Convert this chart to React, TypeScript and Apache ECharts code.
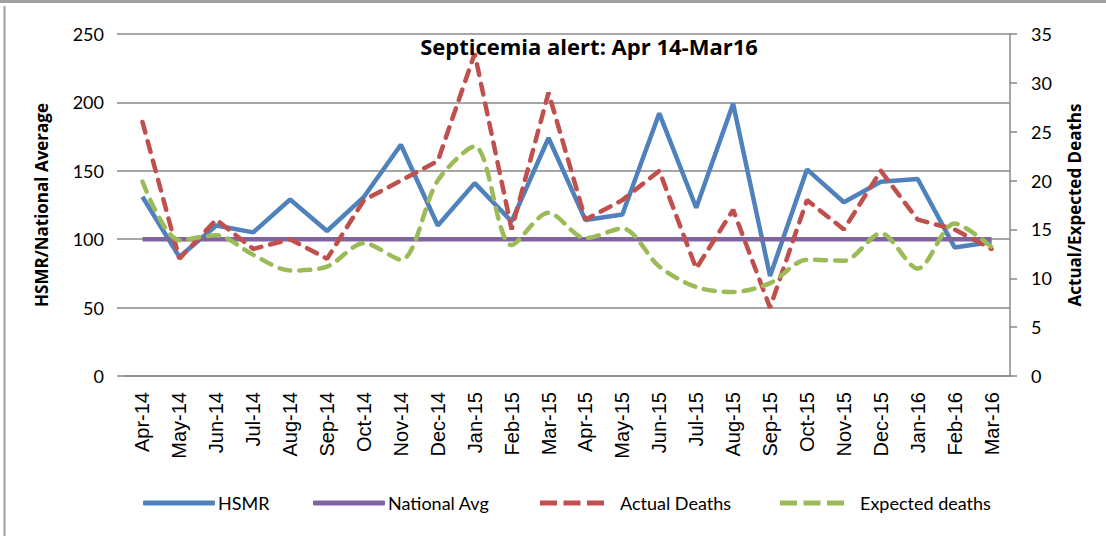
import React, { useEffect, useRef } from "react";
import * as echarts from "echarts";

const months = ["Apr-14", "May-14", "Jun-14", "Jul-14", "Aug-14", "Sep-14", "Oct-14", "Nov-14", "Dec-14", "Jan-15", "Feb-15", "Mar-15", "Apr-15", "May-15", "Jun-15", "Jul-15", "Aug-15", "Sep-15", "Oct-15", "Nov-15", "Dec-15", "Jan-16", "Feb-16", "Mar-16"];
const hsmr = [131, 87, 110, 105, 129, 106, 131, 169, 110, 141, 113, 174, 114, 118, 192, 123, 199, 73, 151, 127, 142, 144, 94, 98];
const nationalAvg = [100, 100, 100, 100, 100, 100, 100, 100, 100, 100, 100, 100, 100, 100, 100, 100, 100, 100, 100, 100, 100, 100, 100, 100];
const actualDeaths = [26, 12, 16, 13, 14, 12, 18, 20, 22, 33, 15, 29, 16, 18, 21, 11, 17, 7, 18, 15, 21, 16, 15, 13];
const expectedDeaths = [19.9, 13.9, 14.4, 12.4, 10.8, 11.2, 13.6, 11.9, 20.0, 23.5, 13.4, 16.7, 14.1, 15.1, 11.2, 9.1, 8.6, 9.5, 11.9, 11.8, 14.6, 11.0, 15.6, 13.2];
const leftTicks = { min: 0, max: 250, interval: 50 };
const rightTicks = { min: 0, max: 35, interval: 5 };
const seriesNames = ["HSMR", "National Avg", "Actual Deaths", "Expected deaths"];

const FONT = "Lato";
const TITLE_FONT = "Open Sans";
const GRID = "#898989";
const DASH_ICON = "path://M0,0h17v5h-17z M23.5,0h17v5h-17z M47,0h17v5h-17z";

function legendItem(name: string, left: number, dashed: boolean) {
  return {
    left,
    top: 494,
    padding: 0,
    itemWidth: dashed ? 64 : 72,
    itemHeight: 5,
    icon: dashed ? DASH_ICON : "roundRect",
    textStyle: { fontFamily: FONT, fontSize: 18, color: "#000", padding: [0, 0, 0, dashed ? 11 : -2] },
    data: [name],
  };
}

export default function App() {
  const ref = useRef<HTMLDivElement>(null);
  useEffect(() => {
    if (!ref.current) return;
    const chart = echarts.init(ref.current, undefined, { renderer: "svg" });
    chart.setOption({
      animation: false,
      backgroundColor: "#ffffff",
      textStyle: { fontFamily: FONT },
      title: {
        text: "Septicemia alert: Apr 14-Mar16",
        left: 584,
        top: 30,
        textAlign: "center",
        textStyle: { fontFamily: TITLE_FONT, fontWeight: "bold", fontSize: 22, color: "#000" },
      },
      graphic: [
        { type: "rect", shape: { x: 0, y: 0, width: 1106, height: 3 }, style: { fill: "#a0a0a0" } },
        { type: "line", shape: { x1: 4.5, y1: 6, x2: 4.5, y2: 536 }, style: { stroke: "#a0a0a0", lineWidth: 2 } },
      ],
      grid: { left: 124, right: 96, top: 34, bottom: 160, containLabel: false },
      legend: [
        legendItem(seriesNames[0], 143, false),
        legendItem(seriesNames[1], 313, false),
        legendItem(seriesNames[2], 540, true),
        legendItem(seriesNames[3], 780, true),
      ],
      xAxis: {
        type: "category",
        data: months,
        boundaryGap: true,
        axisLine: { show: true, lineStyle: { color: GRID, width: 1.5 } },
        axisTick: { show: false },
        axisLabel: { rotate: 90, interval: 0, fontFamily: "Liberation Sans", fontSize: 20, color: "#000", margin: 16 },
      },
      yAxis: [
        {
          type: "value",
          ...leftTicks,
          position: "left",
          name: "HSMR/National Average",
          nameLocation: "middle",
          nameRotate: 90,
          nameGap: 74,
          nameTextStyle: { fontFamily: TITLE_FONT, fontWeight: "bold", fontSize: 17, color: "#000" },
          axisLine: { show: false },
          axisTick: { show: true, length: 7, lineStyle: { color: GRID, width: 1.5 } },
          axisLabel: { fontFamily: FONT, fontSize: 18, color: "#000", margin: 20 },
          splitLine: { show: true, lineStyle: { color: GRID, width: 1.5 } },
        },
        {
          type: "value",
          ...rightTicks,
          position: "right",
          name: "Actual/Expected Deaths",
          nameLocation: "middle",
          nameRotate: 90,
          nameGap: 56,
          nameTextStyle: { fontFamily: TITLE_FONT, fontWeight: "bold", fontSize: 17, color: "#000" },
          axisLine: { show: true, lineStyle: { color: GRID, width: 1.5 } },
          axisTick: { show: true, length: 7, lineStyle: { color: GRID, width: 1.5 } },
          axisLabel: { fontFamily: FONT, fontSize: 18, color: "#000", margin: 21 },
          splitLine: { show: false },
        },
      ],
      series: [
        {
          name: seriesNames[0],
          type: "line",
          yAxisIndex: 0,
          data: hsmr,
          symbol: "none",
          lineStyle: { color: "#4F81BD", width: 4.5 },
          itemStyle: { color: "#4F81BD" },
        },
        {
          name: seriesNames[1],
          type: "line",
          yAxisIndex: 0,
          data: nationalAvg,
          symbol: "none",
          lineStyle: { color: "#8064A2", width: 4.5 },
          itemStyle: { color: "#8064A2" },
        },
        {
          name: seriesNames[2],
          type: "line",
          yAxisIndex: 1,
          data: actualDeaths,
          symbol: "none",
          lineStyle: { color: "#C0504D", width: 4.5, type: [11, 9], cap: "round" },
          itemStyle: { color: "#C0504D" },
        },
        {
          name: seriesNames[3],
          type: "line",
          yAxisIndex: 1,
          data: expectedDeaths,
          symbol: "none",
          smooth: 0.3,
          lineStyle: { color: "#9BBB59", width: 4.5, type: [11, 9], cap: "round" },
          itemStyle: { color: "#9BBB59" },
        },
      ],
    });
    return () => chart.dispose();
  }, []);
  return <div ref={ref} style={{ position: "fixed", left: 0, top: 0, width: 1106, height: 536 }} />;
}
